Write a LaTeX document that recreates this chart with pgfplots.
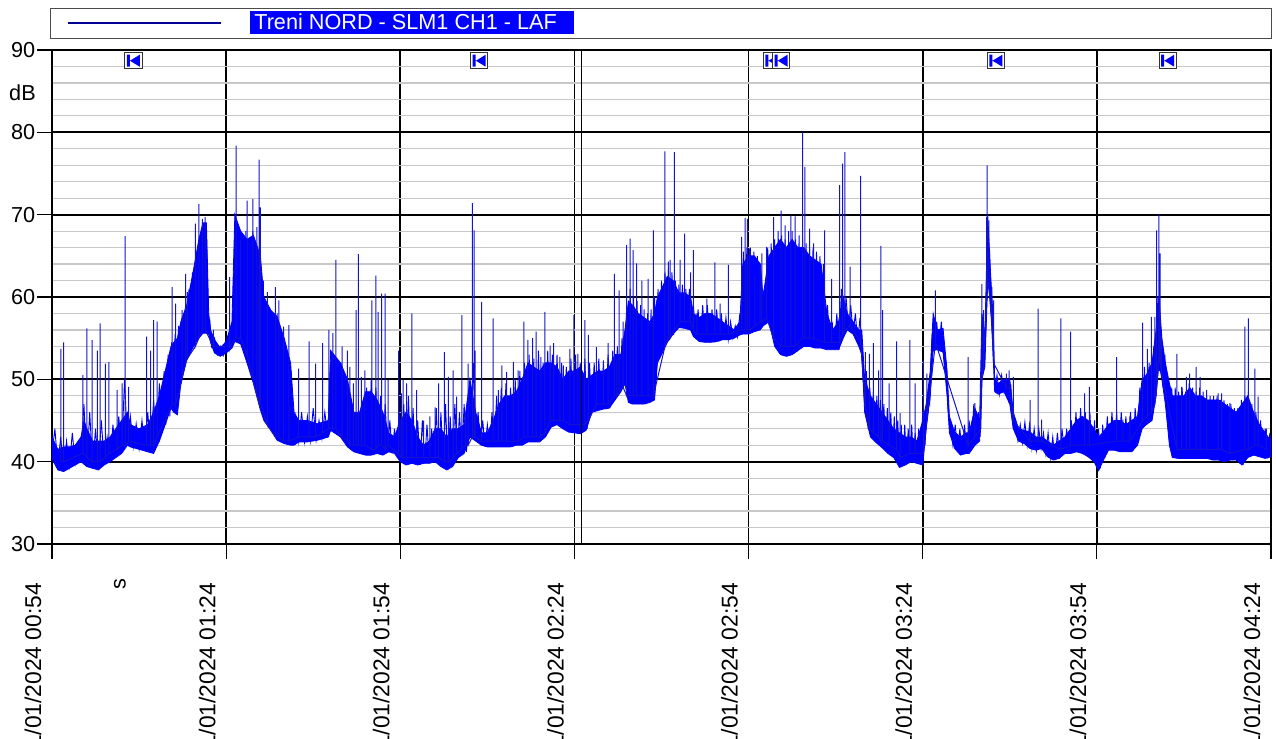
\documentclass[border=0pt]{standalone}
\usepackage{fontspec}
\setmainfont{Liberation Sans}
\usepackage{pgfplots}
\pgfplotsset{compat=1.18}
\definecolor{trace}{RGB}{0,0,255}
\definecolor{spk}{RGB}{20,20,205}
\definecolor{navy}{RGB}{0,0,150}
\definecolor{minorg}{RGB}{200,200,200}
\newcommand{\lf}{\fontsize{13}{13}\selectfont}
\newcommand{\xf}{\fontsize{13.7}{13.7}\selectfont}

\pgfdeclareplotmark{skipback}{%
  \pgfsetlinewidth{0.5pt}%
  \pgfsetstrokecolor{black!80}%
  \pgfsetfillcolor{white}%
  \pgfpathrectangle{\pgfpoint{-5.2pt}{-4.8pt}}{\pgfpoint{10.4pt}{9.6pt}}%
  \pgfusepath{fill,stroke}%
  \pgfsetfillcolor{trace}%
  \pgfpathrectangle{\pgfpoint{-3.9pt}{-3.6pt}}{\pgfpoint{1.8pt}{7.2pt}}%
  \pgfpathmoveto{\pgfpoint{-2.0pt}{0pt}}%
  \pgfpathlineto{\pgfpoint{3.9pt}{3.6pt}}%
  \pgfpathlineto{\pgfpoint{3.9pt}{-3.6pt}}%
  \pgfpathclose
  \pgfusepath{fill}%
}

\begin{document}
\begin{tikzpicture}
\begin{axis}[
  at={(31.2pt,-30pt)}, anchor=north west,
  scale only axis, width=731.4pt, height=296.4pt,
  xmin=0, xmax=210, ymin=30, ymax=90,
  xtick={0,30,60,90,120,150,180,210},
  xticklabels={01/01/2024 00:54,01/01/2024 01:24,01/01/2024 01:54,01/01/2024 02:24,01/01/2024 02:54,01/01/2024 03:24,01/01/2024 03:54,01/01/2024 04:24},
  ytick={30,40,...,90},
  minor ytick={32,34,...,88},
  grid=both,
  major grid style={black, line width=1.1pt},
  minor grid style={minorg, line width=0.7pt},
  axis line style={black, line width=1.2pt},
  tick align=outside,
  tick pos=left,
  major tick length=9pt,
  minor tick length=0pt,
  tick style={black, line width=0.7pt},
  /pgf/number format/assume math mode=true,
  yticklabel style={font=\lf, xshift=2.5pt},
  xticklabel style={font=\xf, xshift=-11.4pt, yshift=-10.8pt, rotate=90, anchor=east},
]
% body of the trace: upper envelope left to right, lower envelope right to left
\addplot[fill=trace, draw=trace, line width=0.5pt] coordinates {
(0,43)(1,41.5)(2,41.8)(3,41.8)(4,42)(5,43)(5.5,45)(6,44)(7,42.5)(8,42.5)(9,42.5)(10,43)(11,44)(12,45)(13,46)(13.5,44.5)(15,44)(16.5,44.5)(17.5,46)(18.5,48)(19.5,51)(20.5,54)(21,54.5)(21.6,55)(22.2,57)(23.2,59)(24.3,63)(25.3,67)(26,69)(26.6,69)(27,58)(27.3,56)(28,54.8)(29,53.8)(30,54.6)(31,57)(31.5,70)(32.5,68)(33.6,67)(34.7,67.5)(35.9,65)(36.5,60)(37.7,58.4)(38.8,57.6)(40,55)(41.1,52)(41.7,46)(42.5,45)(44,45)(45.7,44.6)(47.6,45)(48,53.5)(49.7,52)(50.9,50)(52,46)(53,46)(54,48.5)(55,48.5)(56,47.5)(57,46)(58,43.5)(59,43)(60,45)(61,46)(62,45)(63,43)(64,42)(65,42.5)(66,44)(67,44)(68,43)(69,44)(70,44)(71,44.5)(72,50)(73,46)(74,43.5)(75,43.5)(76,45)(77,47)(78,48)(79,48)(80,48.5)(81,50)(82,52)(83,51.5)(84,51)(85,52)(86,52)(87,51.5)(88,50)(89,51)(90,51)(91,51.5)(92,50)(93,50.5)(94,51)(95,51)(96,51.5)(97,53)(98,53)(98.7,56)(99.3,59.5)(100,59)(101,58)(102,57.5)(103,57)(103.8,58)(104.3,60)(105,61)(106,62.5)(107,62)(108,60.5)(109,60.5)(110,60)(110.5,58)(111.5,57.5)(112.5,58)(113.5,58)(114.5,57.5)(115.5,57)(116.5,56.5)(117.5,56)(118.5,57)(119,64)(120,65)(121,65)(122,64)(122.5,60)(123.5,65)(124.5,66)(125.5,67)(126.5,66)(127.5,67)(128.5,66)(129.5,66)(130.5,65)(131.5,64.5)(132.5,64)(133.5,58)(134.5,56)(135.5,57)(136.3,60)(137,58)(138,57)(139,56)(139.5,56)(140,50)(141,48)(142,47)(143,46)(144,45)(145,44)(146,43.5)(147,43)(148,43)(149,42.5)(150,45)(150.6,47)(151.3,51)(151.8,58)(152.5,56)(153.5,56.2)(154.2,51)(154.6,45.5)(155.5,43.6)(156.5,43)(157.5,43.5)(158,43.5)(159,46.5)(159.8,45)(160.2,58)(160.7,55)(161.2,70)(161.6,64)(162,59)(162.4,50)(163,49.5)(164,50)(165,50)(165.6,46)(166.5,44)(167.5,43.8)(168.5,43.6)(169.5,43)(170.5,43)(171.5,42.5)(172.5,42)(173.5,42.5)(174.5,43)(175.5,44)(176.5,45)(177.5,45.5)(178.5,45)(179.5,44)(180.3,43)(181,43.5)(182,44.5)(183,45)(184,45)(185,44.5)(186,45)(187,45.5)(187.8,50)(188.5,50.5)(189.5,52)(190.2,56)(190.7,60)(191.2,55)(191.8,52)(192.5,49.5)(193,48)(194,48)(195,48)(196,49)(197,48)(198,48)(199,47.5)(200,47.5)(201,47.5)(202,47)(203,46.5)(204,46)(205,47)(206,48)(207,46)(208,44.5)(209,43.5)(210,42.5)
(210,40.6)(209,40.4)(208,40.6)(207,40.8)(206,40.5)(205,39.6)(204,40.2)(203,40.2)(202,40)(201,40.2)(200,40.2)(199,40.4)(198,40.4)(197,40.4)(196,40.4)(195,40.4)(194,40.4)(193,40.5)(192.5,42)(191.8,47)(191.2,50)(190.7,52)(190.2,48)(189.5,45)(188.5,44.5)(187.8,44)(187,42)(186,41.2)(185,41.2)(184,41.2)(183,41.4)(182,41.4)(181,40)(180.3,38.9)(179.5,40)(178.5,40.6)(177.5,41)(176.5,41.2)(175.5,41)(174.5,41)(173.5,40.4)(172.5,40.2)(171.5,40.6)(170.5,41.6)(169.5,41.4)(168.5,41.6)(167.5,42.2)(166.5,42.5)(165.6,44)(165,47)(164,48.5)(163,48.2)(162.4,48.5)(162,55)(161.6,60)(161.2,62)(160.7,51.5)(160.2,50)(159.8,42.5)(159,42)(158,41)(157.5,41)(156.5,40.8)(155.5,41.6)(154.6,43.5)(154.2,48)(153.5,53.3)(152.5,53.6)(151.8,53.5)(151.3,48)(150.6,44)(150,39.6)(149,39.8)(148,40)(147,39.6)(146,39.3)(145,40.5)(144,41)(143,41.7)(142,42.3)(141,43)(140,46)(139.5,53)(139,54)(138,55.5)(137,56)(136.3,55)(135.5,53.6)(134.5,53.6)(133.5,53.6)(132.5,53.8)(131.5,53.8)(130.5,54)(129.5,54)(128.5,53.5)(127.5,53)(126.5,52.8)(125.5,53)(124.5,54)(123.5,57)(122.5,56.5)(122,56)(121,55.8)(120,55.5)(119,55.5)(118.5,55.4)(117.5,55)(116.5,54.8)(115.5,54.8)(114.5,54.6)(113.5,54.5)(112.5,54.5)(111.5,54.6)(110.5,55.2)(110,56)(109,56.2)(108,56.3)(107,55.5)(106,54.5)(105,53)(104.3,52)(103.8,47.5)(103,47.2)(102,47)(101,47)(100,47)(99.3,47.2)(98.7,49.5)(98,48.5)(97,47.5)(96,46.5)(95,46.4)(94,46.2)(93,46)(92,43.8)(91,43.4)(90,43.5)(89,43.6)(88,44)(87,44.5)(86,44.2)(85,43)(84,42.4)(83,42.4)(82,42.4)(81,42)(80,42)(79,41.8)(78,41.8)(77,41.8)(76,41.8)(75,41.8)(74,42)(73,42.5)(72,43)(71,41)(70,40.5)(69,39.4)(68,39)(67,39.4)(66,40)(65,39.8)(64,39.8)(63,39.6)(62,39.8)(61,39.6)(60,40)(59,41)(58,41.2)(57,40.8)(56,41)(55,40.8)(54,40.8)(53,41)(52,41.2)(50.9,41.8)(49.7,43)(48,43.8)(47.6,43)(45.7,42.6)(44,42.4)(42.5,42.4)(41.7,42)(41.1,42)(40,42.2)(38.8,42.6)(37.7,43.8)(36.5,45)(35.9,46.3)(34.7,49.5)(33.6,52)(32.5,54.3)(31.5,54.6)(31,53.8)(30,53.2)(29,52.8)(28,53.2)(27.3,54.5)(27,55.5)(26.6,55.6)(26,55.6)(25.3,55)(24.3,53.9)(23.2,52.3)(22.2,49.5)(21.6,45.7)(21,46)(20.5,46.5)(19.5,44.5)(18.5,42.5)(17.5,41)(16.5,41.2)(15,41.5)(13.5,41.8)(13,42)(12,41)(11,40.5)(10,40)(9,39.6)(8,39)(7,39.2)(6,39.4)(5,40)(4,39.6)(3,39.2)(2,38.8)(1,39)(0,40.4)
} -- cycle;
% fast fluctuation of the level
\addplot[trace, line width=0.55pt] coordinates {
(0,41)(0.5,44)(1,39.5)(1.5,43)(2,39)(2.5,42.5)(3,39.5)(3.5,43.5)(4,39.8)(4.5,42)(5,40.5)(5.5,47)(6,39.5)(6.5,46)(7,39.2)(7.5,44)(8,39.2)(8.5,45)(9,39.8)(9.5,43)(10,40.2)(10.5,44.5)(11,40.6)(11.5,45.5)(12,41.2)(12.5,50)
(13,42.2)(13.5,45.5)(14,41.8)(14.5,44.6)(15,41.6)(15.5,45)(16,41.4)(16.5,46)(17,41.3)(17.5,47.5)(18,42.5)(18.5,49.5)
(19,43.5)(19.3,51)(19.6,44.5)(20,53)(20.3,45.5)(20.6,54.5)(20.9,46)(21.2,55.5)(21.5,45.8)(21.8,56.5)(22.1,49)(22.4,57.5)(22.7,51)(23,59)(23.3,52.5)(23.6,61)(23.9,53.5)(24.2,63)(24.5,54)(24.8,65)(25.1,55)(25.4,66.5)(25.7,55.5)(26,68.5)(26.3,55.6)(26.6,68)(26.9,55.5)(27.2,57)
(27.5,54)(28,55)(28.5,53)(29,54)(29.5,52.9)(30,54.5)(30.5,53.5)(31,56)
(31.3,54.5)(31.6,70)(31.9,54.5)(32.2,68.5)(32.5,54.3)(32.8,67)(33.1,53.5)(33.4,68)(33.7,52)(34,66)(34.3,50.5)(34.6,68)(34.9,49)(35.2,66)(35.5,47.5)(35.8,65)(36.1,46)(36.4,62)(36.7,45)(37,59)(37.3,44.2)(37.6,58.5)(37.9,43.6)(38.2,57.5)(38.5,43)(38.8,58)(39.1,42.7)(39.4,55)(39.7,42.4)(40,55)(40.3,42.2)(40.6,53)(40.9,42.1)(41.2,51)(41.5,42)
(42,45.5)(42.5,42.4)(43,46)(43.5,42.4)(44,45.5)(44.5,42.5)(45,46.5)(45.5,42.6)(46,45)(46.5,42.8)(47,46)(47.5,43)
(48,52)(48.3,43.8)(48.6,53)(48.9,43.6)(49.2,51)(49.5,43.2)(49.8,52)(50.1,42.8)(50.4,50)(50.7,42)(51,48)(51.4,41.5)(51.8,47)
(52.2,41.2)(52.6,46)(53,41)(53.4,47)(53.8,40.9)(54.2,49)(54.6,40.8)(55,50)(55.4,40.8)(55.8,49)(56.2,41)(56.6,48)(57,40.8)(57.4,47)(57.8,41.2)(58.2,45)(58.6,41)(59,44)(59.4,41)(59.8,46)
(60.2,40)(60.6,47)(61,39.6)(61.4,48)(61.8,39.8)(62.2,46.5)(62.6,39.7)(63,45)(63.4,39.6)(63.8,45)(64.2,39.8)(64.6,44.5)(65,39.8)(65.4,44)(65.8,40)(66.2,46.5)(66.6,39.6)(67,46)(67.4,39.4)(67.8,47)(68.2,39)(68.6,45.5)(69,39.4)(69.4,47)(69.8,40.4)(70.2,46)(70.6,40.8)(71,47)(71.4,41.2)(71.8,48)
(72.2,43)(72.6,52)(73,42.5)(73.4,46)(73.8,42)(74.2,45)(74.6,41.8)(75,44.5)(75.4,41.8)(75.8,46)
(76.2,41.8)(76.6,48)(77,41.8)(77.4,49)(77.8,41.8)(78.2,49.5)(78.6,41.8)(79,49)(79.4,41.8)(79.8,50)(80.2,42)(80.6,51)(81,42)(81.4,52)(81.8,42.3)(82.2,53)(82.6,42.4)(83,52.5)(83.4,42.4)(83.8,53.5)(84.2,42.6)(84.6,52)(85,43)(85.4,53.5)(85.8,44)(86.2,53)(86.6,44.4)(87,53)(87.4,44.3)(87.8,52)(88.2,44)(88.6,51.5)(89,43.6)(89.4,52.5)(89.8,43.5)(90.2,53)(90.6,43.4)(91,52)(91.4,43.5)(91.8,52.5)(92.2,44)(92.6,52)
(93,46)(93.4,52)(93.8,46.2)(94.2,52.5)(94.6,46.3)(95,52)(95.4,46.4)(95.8,53)(96.2,46.6)(96.6,53.5)(97,47.5)(97.4,54)(97.8,48.3)(98.2,55)(98.6,49.3)(99,59)
(99.3,47.3)(99.6,61)(99.9,47)(100.2,60)(100.5,47)(100.8,59.5)(101.1,47)(101.4,59)(101.7,47)(102,58.5)(102.3,47)(102.6,58)(102.9,47.2)(103.2,58.5)(103.5,47.4)(103.8,60)
(104.1,50)(104.4,61)(104.7,52.5)(105,62)(105.3,53.5)(105.6,63)(105.9,54.3)(106.2,63.5)(106.5,55)(106.8,63)(107.1,55.4)(107.4,62)(107.7,56)(108,61.5)(108.3,56.3)(108.6,61.5)(108.9,56.2)(109.2,61)(109.5,56.1)(109.8,61)(110.1,56)
(110.5,59)(110.9,55)(111.3,58.5)(111.7,54.6)(112.1,59)(112.5,54.5)(112.9,59)(113.3,54.5)(113.7,58.5)(114.1,54.5)(114.5,58.5)(114.9,54.6)(115.3,58)(115.7,54.8)(116.1,57.5)(116.5,54.8)(116.9,57)(117.3,55)(117.7,56.5)(118.1,55.2)(118.5,58)
(118.8,55.4)(119.1,65.5)(119.4,55.5)(119.7,66)(120,55.5)(120.3,66)(120.6,55.6)(120.9,65.5)(121.2,55.8)(121.5,65)(121.8,56)(122.1,64)(122.4,56.3)(122.7,61)(123,56.7)(123.3,66)(123.6,56.5)(123.9,66.5)
(124.2,55)(124.5,67)(124.8,53.8)(125.1,68)(125.4,53.2)(125.7,67.5)(126,53)(126.3,67)(126.6,52.8)(126.9,68)(127.2,52.9)(127.5,68)(127.8,53.1)(128.1,67)(128.4,53.4)(128.7,67.5)(129,53.7)(129.3,67)(129.6,54)(129.9,66.5)(130.2,54)(130.5,66)(130.8,54)(131.1,66)(131.4,53.8)(131.7,65.5)(132,53.8)(132.3,65)(132.6,53.8)(132.9,64)
(133.2,53.7)(133.6,59)(134,53.6)(134.4,57)(134.8,53.6)(135.2,58)(135.6,53.6)(136,61)(136.4,55.2)(136.8,60)(137.2,56)(137.6,59)(138,55.5)(138.4,58)(138.8,54.5)(139.2,57.5)(139.6,52)
(140,47)(140.3,51)(140.6,44)(140.9,49)(141.2,43)(141.5,48.5)(141.8,42.5)(142.1,48)(142.4,42.2)(142.7,47.5)(143,41.7)(143.3,47)(143.6,41.4)(143.9,46.5)(144.2,41)(144.5,46)(144.8,40.7)(145.1,45.5)(145.4,40.4)(145.7,45)(146,39.4)(146.3,44.5)(146.6,39.5)(146.9,44.5)(147.2,39.7)(147.5,44)(147.8,40)(148.1,44.5)(148.4,40)(148.7,43.5)(149,39.8)(149.3,44)(149.6,39.6)(150,46)
(150.4,42)(150.8,48)(151.2,47)(151.6,55)(152,53.5)(152.4,57)(152.8,53.6)(153.2,57)(153.6,53.3)(154,52)(154.4,46)(154.8,44.5)(155.2,42)(155.6,44.5)(156,41.2)(156.4,44)(156.8,40.9)(157.2,44.5)(157.6,41)(158,45)(158.4,41.3)(158.8,47)(159.2,42.2)(159.6,46)
(159.9,43)(160.3,56)(160.6,51.5)(160.9,57)(161.2,62.5)(161.5,66)(161.8,58)(162.1,58)(162.4,48.6)(162.8,50.5)(163.2,48.2)(163.6,50.5)(164,48.5)(164.4,50)(164.8,47.5)(165.2,49)(165.6,44.2)
(166,45)(166.4,42.6)(166.8,44.5)(167.2,42.3)(167.6,44.8)(168,42)(168.4,44.5)(168.8,41.6)(169.2,44)(169.6,41.4)(170,44)(170.4,41.6)(170.8,43.5)(171.2,41)(171.6,43.5)(172,40.5)(172.4,43)(172.8,40.2)(173.2,43.5)(173.6,40.4)(174,44)(174.4,41)(174.8,44)(175.2,41)(175.6,45)(176,41.1)(176.4,46)(176.8,41.2)(177.2,46.5)(177.6,41)(178,46)(178.4,40.6)(178.8,46)(179.2,40.2)(179.6,45)(180,39.5)(180.3,44)(180.6,39.2)(181,44.5)
(181.4,40.5)(181.8,45.5)(182.2,41.4)(182.6,46)(183,41.4)(183.4,46)(183.8,41.2)(184.2,46)(184.6,41.2)(185,45.5)(185.4,41.2)(185.8,46)(186.2,41.3)(186.6,46.5)(187,42)
(187.4,49)(187.8,44)(188.2,51.5)(188.6,44.5)(189,52)(189.4,45)(189.8,54)(190.2,48)(190.5,60)(190.8,51)(191.1,56)(191.4,49)(191.7,53)(192,47)(192.3,50)(192.6,41.8)
(192.9,49)(193.2,40.5)(193.5,49)(193.8,40.4)(194.1,48.5)(194.4,40.4)(194.7,49)(195,40.4)(195.3,48.5)(195.6,40.4)(195.9,49.5)(196.2,40.4)(196.5,49)(196.8,40.4)(197.1,48.5)(197.4,40.4)(197.7,49)(198,40.4)(198.3,48.5)(198.6,40.4)(198.9,48)(199.2,40.4)(199.5,48)(199.8,40.2)(200.1,48)(200.4,40.2)(200.7,48)(201,40.2)(201.3,47.5)(201.6,40.1)(201.9,47.5)(202.2,40)(202.5,47)(202.8,40.2)(203.1,47)(203.4,40.2)(203.7,46.5)(204,40.2)(204.3,46.5)(204.6,39.8)(204.9,47.5)(205.2,39.6)(205.5,48)(205.8,40.3)(206.1,48.5)(206.4,40.6)(206.7,47)(207,40.8)(207.4,46)(207.8,40.7)(208.2,45)(208.6,40.5)(209,44)(209.4,40.4)(209.8,43.5)(210,40.6)
};
% isolated peaks
\addplot[spk, line width=0.6pt] coordinates {
(1.55,40)(1.55,53.7)(1.55,40)(2.0,40)(2.0,54.5)(2.0,40)(5.3,41)(5.3,50.5)(5.3,41)(6.0,40.5)(6.0,56.2)(6.0,40.5)(6.9,40)(6.9,54.8)(6.9,40)(7.8,40)(7.8,53.5)(7.8,40)(8.3,40)(8.3,56.8)(8.3,40)(9.2,40.5)(9.2,51.9)(9.2,40.5)(9.8,41)(9.8,52.1)(9.8,41)(11.2,41.5)(11.2,48.7)(11.2,41.5)(12.1,42)(12.1,49.5)(12.1,42)(12.6,42)(12.6,67.4)(12.6,42)(13.2,42.5)(13.2,49.1)(13.2,42.5)(16.3,42)(16.3,55.2)(16.3,42)(17.0,42)(17.0,53.5)(17.0,42)(17.5,42)(17.5,57.2)(17.5,42)(18.1,43)(18.1,57)(18.1,43)(20.7,47)(20.7,61.2)(20.7,47)(21.3,47)(21.3,59.2)(21.3,47)(22.4,50)(22.4,58.4)(22.4,50)(23.0,52)(23.0,62.8)(23.0,52)(23.3,52.5)(23.3,60.6)(23.3,52.5)(24.7,54)(24.7,68.9)(24.7,54)(25.3,55)(25.3,71.3)(25.3,55)(25.9,56)(25.9,69.5)(25.9,56)(26.4,56)(26.4,69.7)(26.4,56)(27.8,54)(27.8,56)(27.8,54)(30.6,54)(30.6,62.4)(30.6,54)(31.7,55)(31.7,78.4)(31.7,55)(32.5,55)(32.5,66.9)(32.5,55)(33.6,53)(33.6,71.7)(33.6,53)(34.6,50)(34.6,71.9)(34.6,50)(35.3,48)(35.3,68.5)(35.3,48)(35.7,47)(35.7,76.7)(35.7,47)(35.9,47)(35.9,70.9)(35.9,47)(37.1,44.5)(37.1,60.6)(37.1,44.5)(38.5,43)(38.5,61.2)(38.5,43)(39.1,43)(39.1,59.6)(39.1,43)(39.9,42.5)(39.9,56.4)(39.9,42.5)(40.8,42.5)(40.8,56.6)(40.8,42.5)(42.5,43)(42.5,51.3)(42.5,43)(44.3,43)(44.3,54.6)(44.3,43)(45.4,43)(45.4,51.9)(45.4,43)(46.6,43.5)(46.6,54.4)(46.6,43.5)(47.7,44)(47.7,56)(47.7,44)(48.4,44)(48.4,55.6)(48.4,44)(48.9,44)(48.9,64.5)(48.9,44)(50.0,43)(50.0,54)(50.0,43)(50.9,42.5)(50.9,53.5)(50.9,42.5)(51.3,42)(51.3,51.5)(51.3,42)(51.9,42)(51.9,49.5)(51.9,42)(52.4,42)(52.4,58.4)(52.4,42)(52.8,42)(52.8,65.2)(52.8,42)(53.3,42)(53.3,50.3)(53.3,42)(53.9,42)(53.9,51.1)(53.9,42)(55.1,41.5)(55.1,59.6)(55.1,41.5)(55.8,41.5)(55.8,62.6)(55.8,41.5)(56.2,42)(56.2,58.2)(56.2,42)(56.8,42)(56.8,60.4)(56.8,42)(57.4,41.5)(57.4,60.4)(57.4,41.5)(57.9,42)(57.9,49.9)(57.9,42)(59.7,41)(59.7,53.5)(59.7,41)(60.2,40.5)(60.2,48.3)(60.2,40.5)(60.5,40.5)(60.5,49.9)(60.5,40.5)(61.1,40.5)(61.1,49.5)(61.1,40.5)(62.0,40.5)(62.0,58)(62.0,40.5)(62.8,40.5)(62.8,48.7)(62.8,40.5)(64.0,40.5)(64.0,45)(64.0,40.5)(65.1,40.5)(65.1,45.5)(65.1,40.5)(66.0,40.5)(66.0,46.6)(66.0,40.5)(66.6,40.5)(66.6,49.5)(66.6,40.5)(67.6,40)(67.6,53.3)(67.6,40)(68.3,40)(68.3,50.3)(68.3,40)(69.1,40.5)(69.1,51.1)(69.1,40.5)(69.7,41)(69.7,47.9)(69.7,41)(70.6,41.5)(70.6,57.8)(70.6,41.5)(71.2,42)(71.2,45.9)(71.2,42)(71.7,42)(71.7,51.9)(71.7,42)(72.4,43)(72.4,71.4)(72.4,43)(72.7,43)(72.7,68.1)(72.7,43)(72.9,43)(72.9,53.5)(72.9,43)(74.0,42.5)(74.0,59.4)(74.0,42.5)(76.0,42.5)(76.0,57.4)(76.0,42.5)(76.9,42.5)(76.9,48.7)(76.9,42.5)(77.5,42.5)(77.5,51.7)(77.5,42.5)(78.3,42.5)(78.3,50.9)(78.3,42.5)(79.5,42.5)(79.5,52.1)(79.5,42.5)(80.3,42.5)(80.3,51.1)(80.3,42.5)(81.3,43)(81.3,57)(81.3,43)(82.0,43)(82.0,54.8)(82.0,43)(82.8,43)(82.8,55)(82.8,43)(83.4,43)(83.4,55.8)(83.4,43)(84.2,43)(84.2,52.7)(84.2,43)(84.9,43.5)(84.9,58.2)(84.9,43.5)(85.8,45)(85.8,54.1)(85.8,45)(86.4,45)(86.4,54.4)(86.4,45)(87.5,45)(87.5,52.7)(87.5,45)(88.1,45)(88.1,51.7)(88.1,45)(89.2,44.5)(89.2,53.7)(89.2,44.5)(89.9,44.5)(89.9,57.8)(89.9,44.5)(90.6,44.5)(90.6,53.1)(90.6,44.5)(91.8,44.5)(91.8,57.2)(91.8,44.5)(92.4,45)(92.4,55.4)(92.4,45)(93.8,47)(93.8,53.9)(93.8,47)(95.0,47)(95.0,52.3)(95.0,47)(95.8,47)(95.8,54.4)(95.8,47)(96.9,48)(96.9,62.8)(96.9,48)(97.3,48)(97.3,52.3)(97.3,48)(97.7,48.5)(97.7,60.8)(97.7,48.5)(98.4,49)(98.4,57)(98.4,49)(99.0,48)(99.0,66.3)(99.0,48)(99.6,48)(99.6,67.1)(99.6,48)(100.1,48)(100.1,65.7)(100.1,48)(100.7,48)(100.7,64.1)(100.7,48)(101.6,48)(101.6,62)(101.6,48)(102.7,48)(102.7,62.2)(102.7,48)(103.6,48)(103.6,68.1)(103.6,48)(105.6,54)(105.6,77.7)(105.6,54)(106.2,55)(106.2,64.3)(106.2,55)(106.5,55)(106.5,64.5)(106.5,55)(107.2,56)(107.2,77.6)(107.2,56)(108.2,57)(108.2,64.5)(108.2,57)(109.0,57)(109.0,67.7)(109.0,57)(110.0,57)(110.0,63)(110.0,57)(110.5,56)(110.5,65.7)(110.5,56)(111.1,55.5)(111.1,58)(111.1,55.5)(112.8,55.5)(112.8,59.8)(112.8,55.5)(114.2,55.5)(114.2,64.2)(114.2,55.5)(115.1,55.5)(115.1,59.2)(115.1,55.5)(116.5,55.5)(116.5,63.9)(116.5,55.5)(118.8,56)(118.8,67.3)(118.8,56)(119.4,56)(119.4,69.6)(119.4,56)(119.8,56)(119.8,69.5)(119.8,56)(120.2,56)(120.2,65.9)(120.2,56)(121.1,56.5)(121.1,62.4)(121.1,56.5)(122.0,57)(122.0,64.1)(122.0,57)(122.3,57)(122.3,65.3)(122.3,57)(123.1,57.5)(123.1,66.1)(123.1,57.5)(124.3,55)(124.3,69.7)(124.3,55)(125.6,54)(125.6,70.5)(125.6,54)(126.3,54)(126.3,68.7)(126.3,54)(127.3,54)(127.3,69.9)(127.3,54)(128.0,54)(128.0,69.8)(128.0,54)(129.3,55)(129.3,80)(129.3,55)(129.7,55)(129.7,75.8)(129.7,55)(130.5,55)(130.5,68.3)(130.5,55)(131.2,55)(131.2,66.5)(131.2,55)(133.1,54.5)(133.1,68.1)(133.1,54.5)(134.3,54.5)(134.3,62.2)(134.3,54.5)(135.7,54.5)(135.7,73.6)(135.7,54.5)(136.2,55.5)(136.2,76.2)(136.2,55.5)(136.6,56)(136.6,77.6)(136.6,56)(137.5,56.5)(137.5,63.7)(137.5,56.5)(139.3,54.5)(139.3,74.7)(139.3,54.5)(140.1,47)(140.1,53.3)(140.1,47)(140.8,44)(140.8,53.1)(140.8,44)(141.5,43.5)(141.5,54.4)(141.5,43.5)(142.4,43)(142.4,51.1)(142.4,43)(142.8,42.5)(142.8,66.2)(142.8,42.5)(143.1,42.5)(143.1,58.4)(143.1,42.5)(144.2,42)(144.2,49.5)(144.2,42)(145.5,41.5)(145.5,54.6)(145.5,41.5)(146.1,40.5)(146.1,45.9)(146.1,40.5)(147.8,41)(147.8,54.8)(147.8,41)(148.7,41)(148.7,49.5)(148.7,41)(150.1,41)(150.1,52.3)(150.1,41)(150.7,45)(150.7,50.7)(150.7,45)(152.2,54.5)(152.2,60.8)(152.2,54.5)(157.8,42)(157.8,52.7)(157.8,42)(159.0,43)(159.0,47.1)(159.0,43)(160.0,44)(160.0,50.7)(160.0,44)(160.2,50)(160.2,61.6)(160.2,50)(160.5,52)(160.5,58.4)(160.5,52)(161.0,60)(161.0,69.7)(161.0,60)(161.1,62)(161.1,76.0)(161.1,62)(161.4,61)(161.4,69.3)(161.4,61)(161.9,57)(161.9,61.2)(161.9,57)(162.2,52)(162.2,59.6)(162.2,52)(164.4,49)(164.4,50.7)(164.4,49)(164.9,49)(164.9,51.1)(164.9,49)(165.6,45)(165.6,50.3)(165.6,45)(168.5,42.5)(168.5,47.5)(168.5,42.5)(169.9,42.5)(169.9,58.6)(169.9,42.5)(170.5,42.5)(170.5,45.1)(170.5,42.5)(173.8,41.5)(173.8,57.4)(173.8,41.5)(175.5,42)(175.5,55.8)(175.5,42)(177.9,42)(177.9,48.3)(177.9,42)(178.7,42)(178.7,49.1)(178.7,42)(183.4,42.5)(183.4,52.7)(183.4,42.5)(184.5,42.5)(184.5,45.1)(184.5,42.5)(185.7,42.5)(185.7,45.5)(185.7,42.5)(187.9,45)(187.9,56.9)(187.9,45)(188.7,45.5)(188.7,53.7)(188.7,45.5)(189.4,46)(189.4,57.6)(189.4,46)(190.0,47)(190.0,57.6)(190.0,47)(190.3,49)(190.3,68.1)(190.3,49)(190.7,53)(190.7,70.1)(190.7,53)(190.9,52)(190.9,65.3)(190.9,52)(191.1,51)(191.1,55.2)(191.1,51)(193.8,41.5)(193.8,53.1)(193.8,41.5)(194.6,41.5)(194.6,49.1)(194.6,41.5)(195.4,41.5)(195.4,50.3)(195.4,41.5)(196.0,41.5)(196.0,50.7)(196.0,41.5)(197.1,41.5)(197.1,51.5)(197.1,41.5)(197.8,41.5)(197.8,50.3)(197.8,41.5)(198.9,41.5)(198.9,48.7)(198.9,41.5)(200.9,41.5)(200.9,48.3)(200.9,41.5)(201.5,41.5)(201.5,48.3)(201.5,41.5)(202.9,41)(202.9,47.1)(202.9,41)(205.5,41.5)(205.5,56.4)(205.5,41.5)(206.1,41.5)(206.1,57.4)(206.1,41.5)(207.2,42)(207.2,51.3)(207.2,42)(207.8,42)(207.8,47.9)(207.8,42)(209.2,41.5)(209.2,44)(209.2,41.5)
};
\addplot[black, line width=0.6pt] coordinates {(91.15,30)(91.15,90)};
\addplot[only marks, mark=skipback] coordinates {(14.0,88.7)(73.6,88.7)(124.0,88.7)(125.6,88.7)(162.6,88.7)(192.2,88.7)};
\end{axis}
\begin{scope}[x=0.6pt,y=-0.6pt]
\draw[black!70, line width=0.6pt] (50,8.5) rectangle (1271,38);
\draw[navy, line width=0.7pt] (68,23) -- (221,23);
\fill[trace] (250,10.5) rectangle (574,34);
\node[anchor=west, text=white, font=\lf, inner sep=0pt] at (254,22) {Treni NORD - SLM1 CH1 - LAF};
\node[font=\lf] at (22.5,92.5) {dB};
\node[font=\lf, rotate=90] at (120,584) {s};
\end{scope}
\pgfresetboundingbox
\path[use as bounding box] (0,0) rectangle (765.6pt,-442.8pt);
\end{tikzpicture}
\end{document}
